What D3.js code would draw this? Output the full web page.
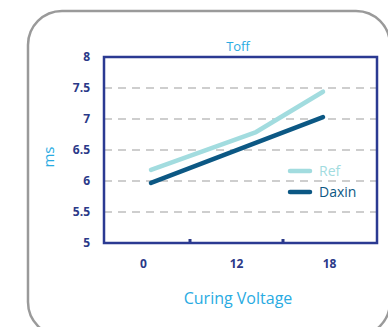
<!DOCTYPE html>
<html><head><meta charset="utf-8">
<script src="https://cdn.jsdelivr.net/npm/d3@7"></script>
<style>body{margin:0;background:#fff}svg{display:block}</style>
</head><body>
<script>
const categories = ["0", "12", "18"];
const yTicks = [5, 5.5, 6, 6.5, 7, 7.5, 8];
const refX = [0, 11, 18];
const refY = [6.18, 6.79, 7.44];
const daxinX = [0, 18];
const daxinY = [5.97, 7.03];
const seriesNames = ["Ref", "Daxin"];
const colors = ["#a2dcdf", "#0c5884"];

const W = 388, H = 327;
const svg = d3.select("body").append("svg").attr("width", W).attr("height", H);

// outer rounded frame
svg.append("rect").attr("x", 28).attr("y", 11).attr("width", 362).attr("height", 325)
  .attr("rx", 34).attr("ry", 34).attr("fill", "#fff").attr("stroke", "#9a9a9a").attr("stroke-width", 2.5);

const plot = {l: 104, r: 377, t: 57, b: 243};
const y = d3.scaleLinear().domain([5, 8]).range([plot.b, plot.t]);
const xBand = d3.scaleBand().domain(categories).range([97, 376]);
const x = d3.scaleLinear().domain([0, 18]).range([151, 323]);

// grid
svg.append("g").selectAll("line").data(yTicks.filter(v => v > 5 && v < 8)).join("line")
  .attr("x1", plot.l).attr("x2", plot.r).attr("y1", d => y(d)).attr("y2", d => y(d))
  .attr("stroke", "#9d9d9d").attr("stroke-width", 1).attr("stroke-dasharray", "8,6");

// y axis labels
const yAxis = d3.axisLeft(y).tickValues(yTicks).tickSize(0).tickPadding(0).tickFormat(d3.format("~g"));
const yg = svg.append("g").attr("transform", `translate(90,0)`).call(yAxis);
yg.select(".domain").remove();
yg.selectAll("text").attr("fill", "#2b3988").attr("font-family", "Open Sans, sans-serif")
  .attr("font-weight", "bold").attr("font-size", 12);

// x axis labels
const xAxis = d3.axisBottom(xBand).tickSize(0).tickPadding(0);
const xg = svg.append("g").attr("transform", `translate(0,259)`).call(xAxis);
xg.select(".domain").remove();
xg.selectAll("text").attr("fill", "#2b3988").attr("font-family", "Open Sans, sans-serif")
  .attr("font-weight", "bold").attr("font-size", 12);

// inner tick marks at band boundaries
svg.append("g").selectAll("rect").data(categories.slice(1)).join("rect")
  .attr("x", d => xBand(d) - 1.5).attr("y", plot.b - 4).attr("width", 3).attr("height", 4)
  .attr("fill", "#2b3988");

// frame
svg.append("rect").attr("x", plot.l).attr("y", plot.t).attr("width", plot.r - plot.l).attr("height", plot.b - plot.t)
  .attr("fill", "none").attr("stroke", "#2b3a92").attr("stroke-width", 2.5);

// lines
const line = d3.line().x(d => x(d[0])).y(d => y(d[1]));
const refData = refX.map((v, i) => [v, refY[i]]);
const daxData = daxinX.map((v, i) => [v, daxinY[i]]);
svg.append("path").datum(refData).attr("d", line).attr("fill", "none")
  .attr("stroke", colors[0]).attr("stroke-width", 4.5).attr("stroke-linecap", "round").attr("stroke-linejoin", "round");
svg.append("path").datum(daxData).attr("d", line).attr("fill", "none")
  .attr("stroke", colors[1]).attr("stroke-width", 4.5).attr("stroke-linecap", "round").attr("stroke-linejoin", "round");

// legend
const leg = svg.append("g");
seriesNames.forEach((name, i) => {
  const yy = 171 + i * 21;
  leg.append("line").attr("x1", 290).attr("x2", 310).attr("y1", yy).attr("y2", yy)
    .attr("stroke", colors[i]).attr("stroke-width", 4.5).attr("stroke-linecap", "round");
  leg.append("text").attr("x", 319).attr("y", yy + 5).text(name)
    .attr("fill", i === 0 ? "#a2dcdf" : "#0c5884").attr("font-family", "Open Sans, sans-serif").attr("font-size", 14);
});

// title and axis titles
svg.append("text").attr("x", 238).attr("y", 51).attr("text-anchor", "middle").text("Toff")
  .attr("fill", "#29abe2").attr("font-family", "Open Sans, sans-serif").attr("font-size", 13);
svg.append("text").attr("transform", "translate(54,157) rotate(-90)").attr("text-anchor", "middle").text("ms")
  .attr("fill", "#29abe2").attr("font-family", "Open Sans, sans-serif").attr("font-size", 15);
svg.append("text").attr("x", 238).attr("y", 304).attr("text-anchor", "middle").text("Curing Voltage")
  .attr("fill", "#29abe2").attr("font-family", "Open Sans, sans-serif").attr("font-size", 16);
</script>
</body></html>
